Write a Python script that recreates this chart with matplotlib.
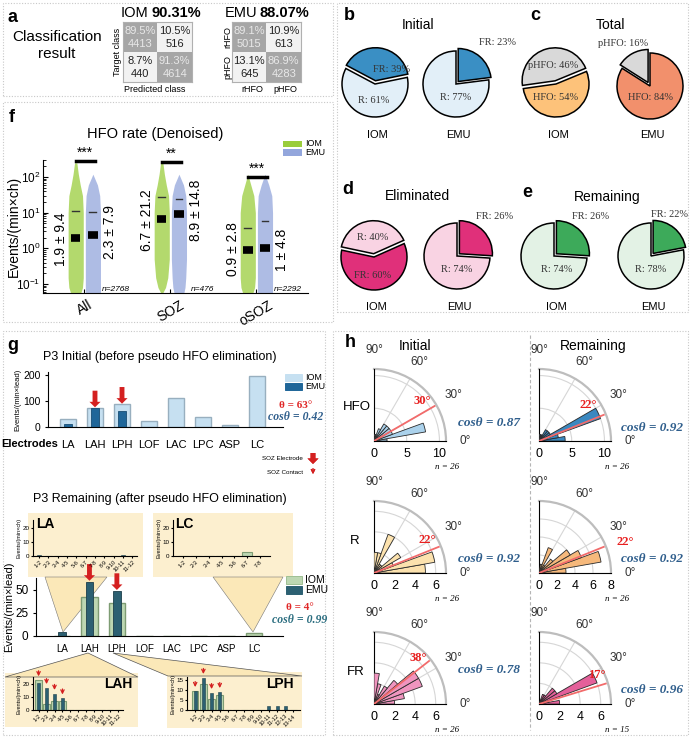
import numpy as np
import matplotlib
matplotlib.use("Agg")
import matplotlib.pyplot as plt
from matplotlib.patches import Rectangle, Polygon
from matplotlib.lines import Line2D
from matplotlib.colors import ListedColormap

plt.rcParams["font.family"] = ["Liberation Sans", "DejaVu Sans"]
SERIF = ["Liberation Serif", "DejaVu Serif"]

# ---------------- data ----------------
# a: confusion matrices (rows: target rHFO / pHFO, cols: predicted rHFO / pHFO)
iom_cm_pct = [[89.5, 10.5], [8.7, 91.3]]
iom_cm_n = [[4413, 516], [440, 4614]]
emu_cm_pct = [[89.1, 10.9], [13.1, 86.9]]
emu_cm_n = [[5015, 613], [645, 4283]]

# b-e: pie percentages
init_iom = [39, 61]      # FR, R
init_emu = [23, 77]      # FR, R
total_iom = [46, 54]     # pHFO, HFO
total_emu = [16, 84]     # pHFO, HFO
elim_iom = [40, 60]      # R, FR
elim_emu = [26, 74]      # FR, R
remain_iom = [26, 74]    # FR, R
remain_emu = [22, 78]    # FR, R

# f: HFO rate
groups = ["All", "SOZ", "oSOZ"]
iom_mean = [1.9, 6.7, 0.9]
iom_std = [9.4, 21.2, 2.8]
emu_mean = [2.3, 8.9, 1.0]
emu_std = [7.9, 14.8, 4.8]
n_ch = [2768, 476, 2292]
sig = ["***", "**", "***"]
sig_y = [280, 265, 100]
cloud_y = [0.05, 0.08, 0.15, 0.5, 2, 10, 30, 60, 120, 250]
iom_cloud = [[0.6, 0.9, 1.0, 1.0, 1.0, 1.0, 0.9, 0.6, 0.35, 0.15],
             [0.0, 0.5, 0.8, 1.0, 1.0, 1.0, 0.9, 0.6, 0.35, 0.15],
             [0.6, 0.9, 1.0, 1.0, 1.0, 1.0, 0.8, 0.4, 0.0, 0.0]]
emu_cloud = [[1.0, 1.0, 1.0, 1.0, 1.0, 1.0, 0.9, 0.6, 0.0, 0.0],
             [0.6, 0.8, 0.9, 1.0, 1.0, 1.0, 0.9, 0.6, 0.0, 0.0],
             [1.0, 1.0, 1.0, 1.0, 1.0, 1.0, 0.9, 0.5, 0.0, 0.0]]

# g: P3 electrode rates
electrodes = ["LA", "LAH", "LPH", "LOF", "LAC", "LPC", "ASP", "LC"]
p3_init_iom = [30, 72, 86, 22, 110, 38, 8, 193]
p3_init_emu = [12, 72, 62, 0, 0, 0, 0, 0]
p3_rem_iom = [0, 42, 36, 0, 0, 0, 0, 3]
p3_rem_emu = [4, 59, 49, 0, 0, 0, 0, 0]
soz_idx = [1, 2]

la_contacts = [f"{i}-{i + 1}" for i in range(1, 12)]
la_iom = [0] * 11
la_emu = [1, 0, 0, 0, 0, 0, 0, 0, 0, 1, 0]
lc_contacts = [f"{i}-{i + 1}" for i in range(1, 8)]
lc_iom = [0, 0, 0, 0, 0, 3, 0]
lc_emu = [0] * 7
lah_contacts = [f"{i}-{i + 1}" for i in range(1, 12)]
lah_iom = [23, 4.5, 7, 7, 0, 0, 0, 0, 0, 0, 0]
lah_emu = [20.5, 17, 12.5, 9, 0, 0, 0, 0, 0, 0, 0]
lph_contacts = [f"{i}-{i + 1}" for i in range(1, 14)]
lph_iom = [9.5, 13, 5.5, 7.5, 0, 0, 0, 0, 0, 0, 0, 0, 0]
lph_emu = [9.5, 16, 8.5, 9, 0, 0, 0, 0, 0, 2, 2, 2, 0]
soz_contacts = [0, 1, 2, 3]

# h: rose histograms (10 degree bins, 0-90)
rose_init = [[2, 8, 3, 3, 3, 3, 2, 1, 1],     # HFO
             [5, 6, 2, 3, 1, 1, 4, 2, 2],     # R
             [2, 3, 5, 5, 3, 2, 1, 2, 3]]     # FR
rose_rem = [[4, 3, 10, 2, 2, 2, 1, 1, 1],
            [3, 7, 5, 4, 2, 1, 3, 1, 0],
            [2, 1, 6, 2, 2, 1, 1, 0, 0]]
init_angle = [30, 22, 38]
rem_angle = [22, 22, 17]
init_cos = [0.87, 0.92, 0.78]
rem_cos = [0.92, 0.92, 0.96]
init_n = [26, 26, 26]
rem_n = [26, 26, 15]
rows = ["HFO", "R", "FR"]

# ---------------- figure helpers ----------------
W, H = 691, 738
fig = plt.figure(figsize=(W / 100, H / 100), dpi=100)


def box(x, y, w, h):
    return [x / W, 1 - (y + h) / H, w / W, h / H]


def ftext(x, y, s, **kw):
    kw.setdefault("ha", "center")
    kw.setdefault("va", "center")
    fig.text(x / W, 1 - y / H, s, **kw)


def fpoly(pts, **kw):
    fig.add_artist(Polygon([(x / W, 1 - y / H) for x, y in pts], closed=True,
                           transform=fig.transFigure, **kw))


def frect(x, y, w, h, **kw):
    fig.add_artist(Rectangle((x / W, 1 - (y + h) / H), w / W, h / H,
                             transform=fig.transFigure, **kw))


def flegend(x, y, items, w, h, gap, size):
    for k, (fc, ec, lab) in enumerate(items):
        yy = y + k * (h + gap)
        frect(x, yy, w, h, fc=fc, ec=ec, lw=0.7)
        ftext(x + w + 3, yy + h / 2, lab, ha="left", size=size)


def farrow(x, y, thick):
    if thick:
        props = dict(facecolor="#D42020", edgecolor="none", width=3.5, headwidth=8, headlength=4)
    else:
        props = dict(arrowstyle="->", color="#D42020", lw=0.9, mutation_scale=6)
    fig.add_artist(plt.annotate("", xy=(x / W, 1 - y / H), xytext=(x / W, 1 - (y - 11) / H),
                                xycoords="figure fraction", arrowprops=props))


# panel frames
for (x, y, w, h) in [(3, 3, 330, 93), (337, 3, 351, 309), (3, 102, 330, 220),
                     (3, 331, 322, 404), (333, 331, 355, 404)]:
    frect(x, y, w, h, fill=False, ec="#c8c8c8", lw=0.8, ls=(0, (1, 1.5)))

# ---------------- a ----------------
ftext(13, 17, "a", weight="bold", size=13)
ftext(57, 37, "Classification", size=11)
ftext(57, 54, "result", size=11)


def conf(x, y, pct, n):
    ax = fig.add_axes(box(x, y, 69, 60))
    ax.imshow(np.eye(2), cmap=ListedColormap(["#f2f2f2", "#a6a6a6"]), extent=(0, 2, 2, 0), aspect="auto")
    for i in range(2):
        for j in range(2):
            c = "#e8e8e8" if i == j else "#222222"
            ax.text(j + 0.5, i + 0.3, f"{pct[i][j]}%", ha="center", va="center", size=8, color=c)
            ax.text(j + 0.5, i + 0.72, f"{n[i][j]}", ha="center", va="center", size=8, color=c)
    ax.set_xticks([])
    ax.set_yticks([])
    for s in ax.spines.values():
        s.set_color("#b0b0b0")
    return ax


conf(123, 22, iom_cm_pct, iom_cm_n)
conf(232, 22, emu_cm_pct, emu_cm_n)
ftext(148, 13, "IOM", ha="right", size=10.5)
ftext(151, 13, "90.31%", ha="left", size=10.5, weight="bold")
ftext(257, 13, "EMU", ha="right", size=10.5)
ftext(260, 13, "88.07%", ha="left", size=10.5, weight="bold")
ftext(155, 89, "Predicted class", size=6.5)
ftext(117, 52, "Target class", size=6.5, rotation=90)
ftext(252, 89, "rHFO", size=6.5)
ftext(285, 89, "pHFO", size=6.5)
ftext(228, 37, "rHFO", size=6.5, rotation=90)
ftext(228, 67, "pHFO", size=6.5, rotation=90)

# ---------------- b-e pies ----------------
BLUE_D, BLUE_L = "#3A8FC4", "#E2EFF8"
GRAY, ORANGE, SALMON = "#D9D9D9", "#FDC27A", "#F2906C"
PINK_D, PINK_L = "#E0307A", "#F9D3E3"
GREEN_D, GREEN_L = "#3DAA5A", "#E3F2E5"


def draw_pie(cx, cy, vals, names, colors, start, ccw, explode, label_pos, name):
    r, s = 33, 1.5
    ax = fig.add_axes(box(cx - r * s, cy - r * s, 2 * r * s, 2 * r * s))
    ax.pie(vals, colors=colors, startangle=start, counterclock=ccw, explode=explode,
           wedgeprops=dict(edgecolor="black", linewidth=1.1))
    ax.set_xlim(-s, s)
    ax.set_ylim(-s, s)
    ax.set_aspect("equal")
    ax.axis("off")
    for nm, v, (lx, ly) in zip(names, vals, label_pos):
        ax.text(lx, ly, f"{nm}: {v}%", ha="center", va="center", size=7.5,
                family=SERIF, color="#333333", clip_on=False)
    ftext(cx + 2, 135 if cy < 150 else 307, name, size=8)


ftext(349, 16, "b", weight="bold", size=13)
ftext(418, 25, "Initial", size=10)
ftext(535, 16, "c", weight="bold", size=13)
ftext(610, 25, "Total", size=10)
ftext(348, 190, "d", weight="bold", size=13)
ftext(417, 196, "Eliminated", size=10)
ftext(527, 192, "e", weight="bold", size=13)
ftext(607, 197, "Remaining", size=10)

draw_pie(375, 84, init_iom, ["FR", "R"], [BLUE_D, BLUE_L], 152, False, [0.1, 0],
         [(0.5, 0.45), (-0.05, -0.5)], "IOM")
draw_pie(456, 84, init_emu, ["FR", "R"], [BLUE_D, BLUE_L], 90, False, [0.1, 0],
         [(1.25, 1.25), (0.0, -0.42)], "EMU")
draw_pie(556, 84, total_iom, ["pHFO", "HFO"], [GRAY, ORANGE], 188, False, [0.1, 0],
         [(-0.1, 0.55), (0.0, -0.42)], "IOM")
draw_pie(650, 86, total_emu, ["pHFO", "HFO"], [GRAY, SALMON], 90, True, [0.12, 0],
         [(-0.82, 1.3), (0.0, -0.36)], "EMU")
draw_pie(374, 257, elim_iom, ["R", "FR"], [PINK_L, PINK_D], 168, False, [0.1, 0],
         [(-0.05, 0.58), (-0.05, -0.55)], "IOM")
draw_pie(457, 256, elim_emu, ["FR", "R"], [PINK_D, PINK_L], 90, False, [0.1, 0],
         [(1.15, 1.2), (0.0, -0.42)], "EMU")
draw_pie(554, 256, remain_iom, ["FR", "R"], [GREEN_D, GREEN_L], 90, False, [0.1, 0],
         [(1.12, 1.2), (0.08, -0.42)], "IOM")
draw_pie(651, 256, remain_emu, ["FR", "R"], [GREEN_D, GREEN_L], 90, False, [0.1, 0],
         [(0.55, 1.27), (0.0, -0.42)], "EMU")

# ---------------- f ----------------
IOM_G, EMU_B = "#9ACD3C", "#93A6DC"
ftext(12, 118, "f", weight="bold", size=13)
ftext(155, 134, "HFO rate (Denoised)", size=10.5)
axf = fig.add_axes(box(43, 160, 265, 133))
axf.set_yscale("log")
axf.set_ylim(0.056, 300)
axf.set_xlim(0.52, 3.6)
for g in range(3):
    xc = g + 1
    for off, cl, col in [(-0.1, iom_cloud[g], IOM_G), (0.1, emu_cloud[g], EMU_B)]:
        hw = np.array(cl) * 0.088
        axf.fill_betweenx(cloud_y, xc + off - hw, xc + off + hw, color=col, alpha=0.75, lw=0)
    for off, m, sd in [(-0.1, iom_mean[g], iom_std[g]), (0.1, emu_mean[g], emu_std[g])]:
        axf.plot([xc + off - 0.055, xc + off + 0.055], [m, m], color="black", lw=5.5, solid_capstyle="butt")
        axf.plot([xc + off - 0.04, xc + off + 0.04], [m + sd, m + sd], color="#333333", lw=1)
    axf.plot([xc - 0.1, xc + 0.12], [sig_y[g], sig_y[g]], color="black", lw=2.5, clip_on=False)
    axf.text(xc + 0.01, sig_y[g] * 1.08, sig[g], ha="center", va="bottom", size=10, clip_on=False)
    axf.text(xc + 0.37, 0.068, f"n={n_ch[g]}", ha="center", va="center", size=6, style="italic")
txt_y_iom = [1.8, 6.3, 0.93]
txt_y_emu = [2.8, 11.4, 0.93]
for g in range(3):
    axf.text(g + 1 - 0.27, txt_y_iom[g], f"{iom_mean[g]:g} ± {iom_std[g]:g}", rotation=90,
             ha="center", va="center", size=10)
    axf.text(g + 1 + 0.3, txt_y_emu[g], f"{emu_mean[g]:g} ± {emu_std[g]:g}", rotation=90,
             ha="center", va="center", size=10)
axf.set_xticks([1, 2, 3])
axf.set_xticklabels(groups, rotation=30, size=10)
axf.tick_params(axis="y", labelsize=8.5, direction="in", pad=2)
axf.tick_params(axis="y", which="minor", direction="in")
axf.tick_params(axis="x", length=3, direction="in")
axf.set_ylabel("Events/(min×ch)", size=10)
axf.yaxis.set_label_coords(-0.085, 0.5)
axf.spines["top"].set_visible(False)
axf.spines["right"].set_visible(False)
flegend(283, 141, [(IOM_G, "none", "IOM"), (EMU_B, "none", "EMU")], 19, 6, 2.5, 6.5)

# ---------------- g ----------------
IOM_BL, EMU_BD = "#C6E0F1", "#1F6699"
IOM_GR, EMU_TL = "#BDD7B2", "#2C6072"
ftext(13, 345, "g", weight="bold", size=13)
ftext(160, 357, "P3 Initial (before pseudo HFO elimination)", size=9)
x8 = np.arange(1, 9)

ax1 = fig.add_axes(box(48, 372, 235, 55))
ax1.bar(x8, p3_init_iom, width=0.6, color=IOM_BL, edgecolor="#98AFBF", lw=1)
ax1.bar(x8, p3_init_emu, width=0.27, color=EMU_BD, edgecolor="#184d73", lw=0.6)
ax1.set_xlim(0.26, 8.96)
ax1.set_ylim(0, 210)
ax1.set_yticks([0, 100, 200])
ax1.set_xticks(x8)
ax1.set_xticklabels(electrodes, size=8)
ax1.tick_params(axis="x", length=0, pad=9)
ax1.tick_params(axis="y", labelsize=7.5, length=2)
ax1.set_ylabel("Events/(min×lead)", size=5.5, labelpad=1)
ax1.spines["top"].set_visible(False)
ax1.spines["right"].set_visible(False)
for i in soz_idx:
    ax1.annotate("", xy=(x8[i], p3_init_iom[i] + 3), xytext=(0, 12), textcoords="offset points",
                 arrowprops=dict(facecolor="#D42020", edgecolor="none", width=3.5, headwidth=8, headlength=4))
ftext(30, 444, "Electrodes", size=8, weight="bold")
flegend(285, 374, [(IOM_BL, "#C6E0F1", "IOM"), (EMU_BD, "#1F6699", "EMU")], 17, 7, 2, 6.5)
ftext(296, 405, "θ = 63°", size=8, color="#E02828", weight="bold", family=SERIF)
ftext(296, 417, "cosθ = 0.42", size=8.5, color="#2F5E8C", weight="bold", style="italic", family=SERIF)
ftext(303, 459, "SOZ Electrode", size=4.5, ha="right")
ftext(303, 472, "SOZ Contact", size=4.5, ha="right")
farrow(313, 464, True)
farrow(313, 477, False)

# remaining: zoom shading
SHADE = "#FCEFCF"
for (x, y, w, h) in [(28, 513, 115, 64), (153, 513, 140, 64), (5, 673, 133, 54), (167, 672, 135, 56)]:
    frect(x, y, w, h, color=SHADE, lw=0, zorder=0)
fpoly([(45, 577), (107, 577), (63, 632)], fc="#FBE8B8", ec="#777777", lw=0.4, zorder=0)
fpoly([(213, 577), (283, 577), (253, 632)], fc="#FBE8B8", ec="#777777", lw=0.4, zorder=0)
fpoly([(88, 653), (5, 677), (138, 677)], fc="#FBE8B8", ec="#555555", lw=0.5, zorder=0)
fpoly([(113, 653), (168, 676), (302, 676)], fc="#FBE8B8", ec="#555555", lw=0.5, zorder=0)

ftext(160, 499, "P3 Remaining (after pseudo HFO elimination)", size=9)
ax2 = fig.add_axes(box(36, 578, 247, 58))
ax2.set_facecolor("none")
ax2.bar(x8, p3_rem_iom, width=0.6, color=IOM_GR, edgecolor="#7E9C73", lw=1)
ax2.bar(x8, p3_rem_emu, width=0.27, color=EMU_TL, edgecolor="#1d3f4b", lw=0.6)
ax2.set_xlim(0.05, 9.06)
ax2.set_ylim(0, 63)
ax2.set_yticks([0, 25, 50])
ax2.set_xticks(x8)
ax2.set_xticklabels(electrodes, size=7)
ax2.tick_params(axis="x", length=0, pad=6)
ax2.tick_params(axis="y", labelsize=8.5, length=2)
ax2.set_ylabel("Events/(min×lead)", size=8, labelpad=1)
ax2.spines["top"].set_visible(False)
ax2.spines["right"].set_visible(False)
for i in soz_idx:
    ax2.annotate("", xy=(x8[i], p3_rem_emu[i] + 1), xytext=(0, 12), textcoords="offset points",
                 arrowprops=dict(facecolor="#D42020", edgecolor="none", width=3.5, headwidth=8, headlength=4))
flegend(286, 576, [(IOM_GR, "#9fbf93", "IOM"), (EMU_TL, "#2C6072", "EMU")], 16, 8, 2, 7.5)
ftext(300, 608, "θ = 4°", size=8, color="#E02828", weight="bold", family=SERIF)
ftext(300, 620, "cosθ = 0.99", size=8.5, color="#2C6E80", weight="bold", style="italic", family=SERIF)


def inset(rect, labels, iom, emu, ymax, yticks, xl, name, name_xy, arrows):
    ax = fig.add_axes(box(*rect))
    ax.set_facecolor("none")
    xs = np.arange(len(labels))
    ax.bar(xs, iom, width=0.8, color=IOM_GR, edgecolor="#7E9C73", lw=0.8)
    ax.bar(xs, emu, width=0.35, color=EMU_TL, edgecolor="#1d3f4b", lw=0.4)
    ax.set_xlim(*xl)
    ax.set_ylim(0, ymax)
    ax.set_yticks(yticks)
    ax.set_xticks(xs)
    ax.set_xticklabels(labels, rotation=45, ha="right", size=4, rotation_mode="anchor")
    ax.tick_params(axis="both", length=1.5, pad=1)
    ax.tick_params(axis="y", labelsize=4.5)
    ax.set_ylabel("Events/(min×ch)", size=4, labelpad=1)
    ax.spines["top"].set_visible(False)
    ax.spines["right"].set_visible(False)
    ax.text(name_xy[0], name_xy[1], name, transform=ax.transAxes, size=10, weight="bold",
            ha="center", va="center")
    for i in arrows:
        top = max(iom[i], emu[i])
        ax.annotate("", xy=(xs[i], top + ymax * 0.03), xytext=(0, 8), textcoords="offset points",
                    arrowprops=dict(arrowstyle="->", color="#D42020", lw=0.9, mutation_scale=6),
                    annotation_clip=False)
    return ax


inset((33, 520, 104, 36), la_contacts, la_iom, la_emu, 25.7, [0, 10, 20], (-0.65, 10.5),
      "LA", (0.12, 0.88), [])
inset((173, 520, 97, 36), lc_contacts, lc_iom, lc_emu, 25.7, [0, 10, 20], (-0.8, 6.8),
      "LC", (0.12, 0.88), [])
inset((33, 677, 90, 33), lah_contacts, lah_iom, lah_emu, 25.4, [0, 10, 20], (-0.7, 10.6),
      "LAH", (0.95, 0.8), soz_contacts)
inset((187, 677, 113, 33), lph_contacts, lph_iom, lph_emu, 16.4, [0, 5, 10, 15], (-1.0, 12.8),
      "LPH", (0.82, 0.8), soz_contacts)

# ---------------- h ----------------
ftext(350, 343, "h", weight="bold", size=13)
ftext(415, 346, "Initial", size=10)
ftext(593, 346, "Remaining", size=10)
fig.add_artist(Line2D([530 / W, 530 / W], [1 - 335 / H, 1 - 730 / H], color="#b5b5b5",
                      lw=0.8, ls=(0, (3, 2)), transform=fig.transFigure))

rose_cols_init = ["#ABD2EC", "#FCE2AE", "#F095BF"]
rose_cols_rem = ["#3A88C0", "#F6B97C", "#E4609A"]
rmax_init = [11, 7, 7]
rmax_rem = [11, 8, 7]
rticks_init = [[0, 5, 10], [0, 2, 4, 6], [0, 2, 4, 6]]
rticks_rem = [[0, 5, 10], [0, 2, 4, 6, 8], [0, 2, 4, 6]]
origin_y = [441, 573, 704]
init_lab = [(422, 401), (427, 540), (418, 658)]
rem_lab = [(588, 405), (625, 542), (597, 675)]
init_cos_xy = [(489, 423), (489, 559), (489, 670)]
rem_cos_xy = [(652, 428), (652, 559), (652, 690)]
row_lab_xy = [(357, 407), (355, 541), (356, 672)]
bin_centers = np.deg2rad(np.arange(5, 90, 10))


def rose(ox, oy, counts, rmax, rticks, color, angle):
    R = 72
    ax = fig.add_axes(box(ox, oy - R, R, R), projection="polar")
    ax.set_facecolor("none")
    ax.set_thetamin(0)
    ax.set_thetamax(90)
    ax.bar(bin_centers, counts, width=np.deg2rad(10), color=color, edgecolor="#2b2b2b",
           lw=0.6, zorder=3)
    ax.plot([np.deg2rad(angle)] * 2, [0, rmax * 0.97], color="#F26B6B", lw=1.3, zorder=4)
    ax.set_rlim(0, rmax)
    ax.set_thetagrids([0, 30, 60, 90], ["0°", "30°", "60°", "90°"], fontsize=8.5, color="#333333")
    ax.set_yticks([t for t in rticks if 0 < t < rmax])
    ax.set_yticklabels([])
    ax.grid(color="#d6d6d6", lw=0.8)
    ax.spines["polar"].set_color("#bdbdbd")
    ax.spines["polar"].set_linewidth(1.6)
    ax.spines["start"].set_visible(False)
    ax.spines["end"].set_visible(False)
    for t in rticks:
        ax.annotate(str(t), xy=(0, t), xytext=(0, -5), textcoords="offset points",
                    ha="center", va="top", fontsize=9, annotation_clip=False)
    return ax


for k in range(3):
    oy = origin_y[k]
    rose(374, oy, rose_init[k], rmax_init[k], rticks_init[k], rose_cols_init[k], init_angle[k])
    rose(539, oy, rose_rem[k], rmax_rem[k], rticks_rem[k], rose_cols_rem[k], rem_angle[k])
    ftext(*row_lab_xy[k], rows[k], size=9.5)
    ftext(*init_lab[k], f"{init_angle[k]}°", size=9, color="#E82020", weight="bold", family=SERIF)
    ftext(*rem_lab[k], f"{rem_angle[k]}°", size=9, color="#E82020", weight="bold", family=SERIF)
    ftext(*init_cos_xy[k], f"cosθ = {init_cos[k]:.2f}", size=9.5, color="#2F5E8C",
          weight="bold", style="italic", family=SERIF)
    ftext(*rem_cos_xy[k], f"cosθ = {rem_cos[k]:.2f}", size=9.5, color="#2F5E8C",
          weight="bold", style="italic", family=SERIF)
    ftext(447, oy + 26, f"n = {init_n[k]}", size=6.5, style="italic", family=SERIF)
    ftext(617, oy + 26, f"n = {rem_n[k]}", size=6.5, style="italic", family=SERIF)

fig.savefig("out.png", dpi=100)
